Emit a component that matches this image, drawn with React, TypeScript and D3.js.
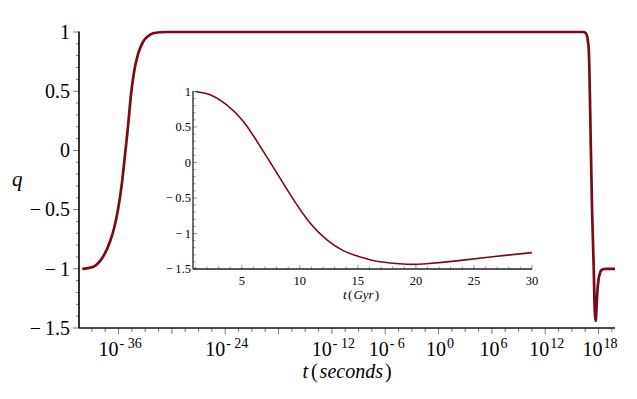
import React from 'react';
import * as d3 from 'd3';

// main curve: deceleration parameter q vs log10(t / seconds)
const mainLogT = [-40.08, -39.21, -38.65, -38.09, -37.53, -36.96, -36.51, -36.06, -35.61, -35.22, -34.94, -34.6, -34.26, -33.93, -33.59, -33.22, -32.69, -32.13, -31.34, -30.55,
  16.29, 16.5, 16.67, 16.81, 16.9, 17.14, 17.27, 17.46, 17.55, 17.68, 17.8, 17.86, 18.02, 18.15, 18.28, 18.5, 18.73, 19.85];
const mainQ = [-1.0, -0.99, -0.975, -0.935, -0.87, -0.77, -0.66, -0.5, -0.27, 0.0, 0.2, 0.47, 0.66, 0.78, 0.86, 0.92, 0.965, 0.99, 0.998, 1.0,
  1.0, 0.995, 0.975, 0.92, 0.85, 0.0, -0.5, -1.0, -1.3, -1.44, -1.28, -1.2, -1.08, -1.04, -1.015, -1.003, -1.0, -1.0];

// inset: q vs t in Gyr
const insetT = [1, 2.27, 3.7, 5.14, 6.6, 8.03, 9.47, 10.9, 12.34, 13.78, 15.2, 16.9, 19.2, 20.9, 23.5, 26.4, 30];
const insetQ = [1, 0.953, 0.81, 0.577, 0.224, -0.15, -0.527, -0.856, -1.09, -1.245, -1.33, -1.397, -1.433, -1.425, -1.385, -1.33, -1.27];

const mainYTicks = [1, 0.5, 0, -0.5, -1, -1.5];
const mainXTickExps = [-36, -24, -12, -6, 0, 6, 12, 18];
const insetXTicks = [5, 10, 15, 20, 25, 30];
const insetYTicks = [1, 0.5, 0, -0.5, -1, -1.5];

const W = 637;
const H = 399;
const LINE = '#7a0a16';
const fmt = (v: number) => (v < 0 ? '\u2212\u2009' + Math.abs(v) : String(v));
const serif = '"Liberation Serif"';

export default function App() {
  const x = d3.scaleLog().domain([Math.pow(10, -40.45), Math.pow(10, 19.85)]).range([79, 615]);
  const y = d3.scaleLinear().domain([-1.5, 1]).range([328, 32]);
  const ix = d3.scaleLinear().domain([0.8, 30]).range([193, 532]);
  const iy = d3.scaleLinear().domain([-1.5, 1]).range([269, 91.5]);

  const mainPts = mainLogT.map((e, i) => [x(Math.pow(10, e)), y(mainQ[i])] as [number, number]);
  const insetPts = insetT.map((t, i) => [ix(t), iy(insetQ[i])] as [number, number]);
  const mainLine = d3.line().curve(d3.curveMonotoneX);
  const insetLine = d3.line().curve(d3.curveNatural);

  // minor ticks
  const mainXMinor: number[] = [];
  for (let e = -39; e <= 19.5; e += 1.5) mainXMinor.push(e);
  const mainYMinor = d3.range(-15, 11).map(k => k / 10);
  const insetXMinor = d3.range(1, 31);
  const insetYMinor = d3.range(-15, 11).map(k => k / 10);

  const txt = { fontFamily: serif };

  return (
    <svg width={W} height={H} style={{ position: 'absolute', left: 0, top: 0, background: '#fff' }}>
      {/* main axes */}
      <g stroke="#555" strokeWidth={0.8}>
        {mainXMinor.map(e => {
          const xx = x(Math.pow(10, e));
          const major = e % 6 === 0;
          return <line key={'mx' + e} x1={xx} x2={xx} y1={328} y2={major ? 334 : 332} />;
        })}
        {mainYMinor.map(v => {
          const yy = y(v);
          const major = Math.abs(v * 2 - Math.round(v * 2)) < 1e-6;
          return <line key={'my' + v} x1={major ? 73 : 76} x2={79} y1={yy} y2={yy} />;
        })}
      </g>
      <line x1={79} x2={615} y1={328} y2={328} stroke="#111" strokeWidth={1.7} />
      <line x1={79} x2={79} y1={31.5} y2={328} stroke="#111" strokeWidth={1.7} />

      {mainYTicks.map(v => (
        <text key={'yl' + v} style={txt} x={70} y={y(v)} dy="0.34em" textAnchor="end" fontSize={20}>{fmt(v)}</text>
      ))}
      {mainXTickExps.map(e => (
        <text key={'xl' + e} style={txt} x={x(Math.pow(10, e)) + 1.5} y={356} textAnchor="middle" fontSize={20}>
          10<tspan dx={1} dy={-8} fontSize={14}>{e < 0 ? '- ' + Math.abs(e) : String(e)}</tspan>
        </text>
      ))}
      <text style={txt} x={12} y={186} fontSize={21} fontStyle="italic">q</text>
      <text style={txt} x={347} y={378} textAnchor="middle" fontSize={20}>
        <tspan fontStyle="italic">t</tspan><tspan dx={3}>(</tspan><tspan dx={2} fontStyle="italic">seconds</tspan><tspan dx={2}>)</tspan>
      </text>

      <path d={mainLine(mainPts) || ''} fill="none" stroke={LINE} strokeWidth={2.7} strokeLinejoin="round" />

      {/* inset axes */}
      <g stroke="#666" strokeWidth={0.7}>
        {insetXMinor.map(t => {
          const xx = ix(t);
          const major = t % 5 === 0;
          return <line key={'ix' + t} x1={xx} x2={xx} y1={269} y2={major ? 265 : 266.5} />;
        })}
        {insetYMinor.map(v => {
          const yy = iy(v);
          const major = Math.abs(v * 2 - Math.round(v * 2)) < 1e-6;
          return <line key={'iy' + v} x1={193} x2={major ? 197 : 195.5} y1={yy} y2={yy} />;
        })}
      </g>
      <line x1={193} x2={532} y1={269} y2={269} stroke="#222" strokeWidth={1.3} />
      <line x1={193} x2={193} y1={91} y2={269} stroke="#222" strokeWidth={1.3} />
      {insetYTicks.map(v => (
        <text key={'iyl' + v} style={txt} x={191} y={iy(v)} dy="0.34em" textAnchor="end" fontSize={12.5}>{fmt(v)}</text>
      ))}
      {insetXTicks.map(t => (
        <text key={'ixl' + t} style={txt} x={ix(t)} y={285} textAnchor="middle" fontSize={12.5}>{t}</text>
      ))}
      <text style={txt} x={361} y={299} textAnchor="middle" fontSize={13}>
        <tspan fontStyle="italic">t</tspan><tspan dx={1.5}>(</tspan><tspan dx={1} fontStyle="italic">Gyr</tspan><tspan dx={1}>)</tspan>
      </text>
      <path d={insetLine(insetPts) || ''} fill="none" stroke={LINE} strokeWidth={1.6} strokeLinejoin="round" />
    </svg>
  );
}
